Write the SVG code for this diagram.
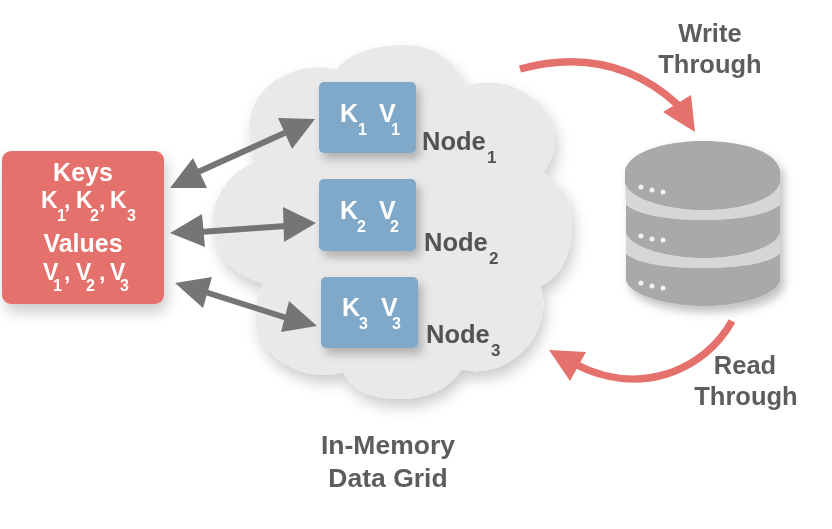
<svg xmlns="http://www.w3.org/2000/svg" width="832" height="529" viewBox="0 0 832 529">
<style>
text{font-family:"Liberation Sans",Arial,sans-serif;font-weight:700}
.w{fill:#fff;font-size:25px}
.m{fill:#fff;font-size:23px}
.ws{font-size:16px}
.d{fill:#525355;font-size:25.5px}
.ds{font-size:17px}
.g{fill:#5c5d5f;font-size:25.5px}
.h{fill:#5c5d5f;font-size:26.5px}
.c{fill:none;stroke:#757575;stroke-width:6}
.a{fill:#757575}
.r{fill:none;stroke:#e5716c;stroke-width:7.5}
.ra{fill:#e5716c}
.b{fill:#7fa8c9}
.disk{fill:#a9a9a9}
.rim{fill:#d6d6d6}
.dot{fill:#f2f2f2}
</style>
<defs>
<filter id="sh" x="-20%" y="-20%" width="150%" height="150%"><feDropShadow dx="3" dy="8" stdDeviation="7" flood-color="#000" flood-opacity=".2"/></filter>
<filter id="sh2" x="-20%" y="-20%" width="150%" height="150%"><feDropShadow dx="4" dy="6" stdDeviation="5" flood-color="#000" flood-opacity=".25"/></filter>
<filter id="soft" x="0" y="0" width="832" height="529" filterUnits="userSpaceOnUse"><feGaussianBlur stdDeviation=".45"/></filter>
</defs>
<rect width="832" height="529" fill="#fff"/>
<g filter="url(#soft)">
<g id="cloud">
<path filter="url(#sh)" fill="#e9e9e9" d="M258 161C245 140 246 108 266 88C282 72 312 62 337 70C347 54 375 45 403 45C435 45 457 62 465 87C495 75 530 88 546 112C558 130 559 152 543 173C564 184 573 205 572 228C571 258 558 279 540 286C548 305 541 335 522 352C505 368 482 375 462 369C448 390 425 399 400 399C370 399 352 390 343 372C322 380 290 372 272 354C258 341 248 318 263 283C232 276 213 252 213 222C213 194 232 170 258 161Z"/>
<text class="h" x="388" y="454" text-anchor="middle">In-Memory</text>
<text class="h" x="388" y="487" text-anchor="middle">Data Grid</text>
</g>
<g id="client">
<rect x="2" y="151" width="162" height="153" rx="9" fill="#e5716c" filter="url(#sh)"/>
<text class="w" x="83" y="181" text-anchor="middle">Keys</text>
<text class="m" x="41" y="208">K<tspan class="ws" x="57" y="221">1</tspan><tspan x="64" y="208">,</tspan><tspan x="76" y="208">K</tspan><tspan class="ws" x="90" y="221">2</tspan><tspan x="99" y="208">,</tspan><tspan x="110" y="208">K</tspan><tspan class="ws" x="127" y="221">3</tspan></text>
<text class="w" x="83" y="252" text-anchor="middle">Values</text>
<text class="m" x="43" y="280">V<tspan class="ws" x="53" y="291">1</tspan><tspan x="64" y="280">,</tspan><tspan x="76" y="280">V</tspan><tspan class="ws" x="86" y="291">2</tspan><tspan x="99" y="280">,</tspan><tspan x="110" y="280">V</tspan><tspan class="ws" x="120" y="291">3</tspan></text>
</g>
<g id="node1">
<rect class="b" x="319" y="82" width="97" height="71" rx="5" filter="url(#sh2)"/>
<text class="w" x="340" y="122">K<tspan class="ws" x="358" y="135">1</tspan><tspan x="379" y="122">V</tspan><tspan class="ws" x="391" y="135">1</tspan></text>
<text class="d" x="422" y="150">Node<tspan class="ds" x="487" y="163">1</tspan></text>
</g>
<g id="node2">
<rect class="b" x="319" y="179" width="97" height="72" rx="5" filter="url(#sh2)"/>
<text class="w" x="340" y="219">K<tspan class="ws" x="357" y="232">2</tspan><tspan x="379" y="219">V</tspan><tspan class="ws" x="390" y="232">2</tspan></text>
<text class="d" x="424" y="251">Node<tspan class="ds" x="489" y="264">2</tspan></text>
</g>
<g id="node3">
<rect class="b" x="321" y="277" width="97" height="71" rx="5" filter="url(#sh2)"/>
<text class="w" x="342" y="316">K<tspan class="ws" x="359" y="329">3</tspan><tspan x="381" y="316">V</tspan><tspan class="ws" x="392" y="329">3</tspan></text>
<text class="d" x="426" y="343">Node<tspan class="ds" x="491" y="356">3</tspan></text>
</g>
<g id="database">
<g filter="url(#sh2)">
<path class="disk" d="M626 252C640 263 670 268 703 268C735 268 766 263 780 252V281C775 296 740 306 703 306C670 306 631 296 626 281Z"/>
<path class="rim" d="M626 233C631 248 670 258 703 258C740 258 775 248 780 233V254C766 265 735 268 703 268C670 268 640 265 626 254Z"/>
<path class="disk" d="M626 203C640 215 670 220 703 220C735 220 766 215 780 203V233C775 248 740 258 703 258C670 258 631 248 626 233Z"/>
<path class="rim" d="M625 183C630 200 670 210 703 210C740 210 775 200 780 183V205C766 216 735 220 703 220C670 220 640 216 626 205Z"/>
<path class="disk" d="M625 170C630 150 670 141 703 141C740 141 775 150 780 170V183C775 200 740 210 703 210C670 210 630 200 625 183Z"/>
</g>
<g class="dot">
<circle cx="641" cy="187" r="2.5"/><circle cx="652" cy="190" r="2.5"/><circle cx="663" cy="192" r="2.5"/>
<circle cx="641" cy="236" r="2.5"/><circle cx="652" cy="239" r="2.5"/><circle cx="663" cy="240" r="2.5"/>
<circle cx="641" cy="283" r="2.5"/><circle cx="652" cy="286" r="2.5"/><circle cx="663" cy="288" r="2.5"/>
</g>
</g>
<g id="connectors">
<path class="c" d="M198 172L289 131"/>
<path class="a" d="M170 188L193 158L207 188Z"/><path class="a" d="M315 119L278 118L292 149Z"/>
<path class="c" d="M200 232L286 226"/>
<path class="a" d="M170 233L202 214L205 247Z"/><path class="a" d="M316 223L283 207L284 242Z"/>
<path class="c" d="M202 291L290 319"/>
<path class="a" d="M175 283L212 277L203 308Z"/><path class="a" d="M317 326L281 332L289 301Z"/>
<path class="r" d="M520 69C590 50 640 70 678 105"/>
<path class="ra" d="M695 132L663 112L691 95Z"/>
<path class="r" d="M732 321C705 370 640 398 575 364"/>
<path class="ra" d="M549 350L586 352L570 381Z"/>
</g>
<g id="labels">
<text class="g" x="710" y="42" text-anchor="middle">Write</text>
<text class="g" x="710" y="73" text-anchor="middle">Through</text>
<text class="g" x="745" y="374" text-anchor="middle">Read</text>
<text class="g" x="746" y="405" text-anchor="middle">Through</text>
</g>
</g>
</svg>
